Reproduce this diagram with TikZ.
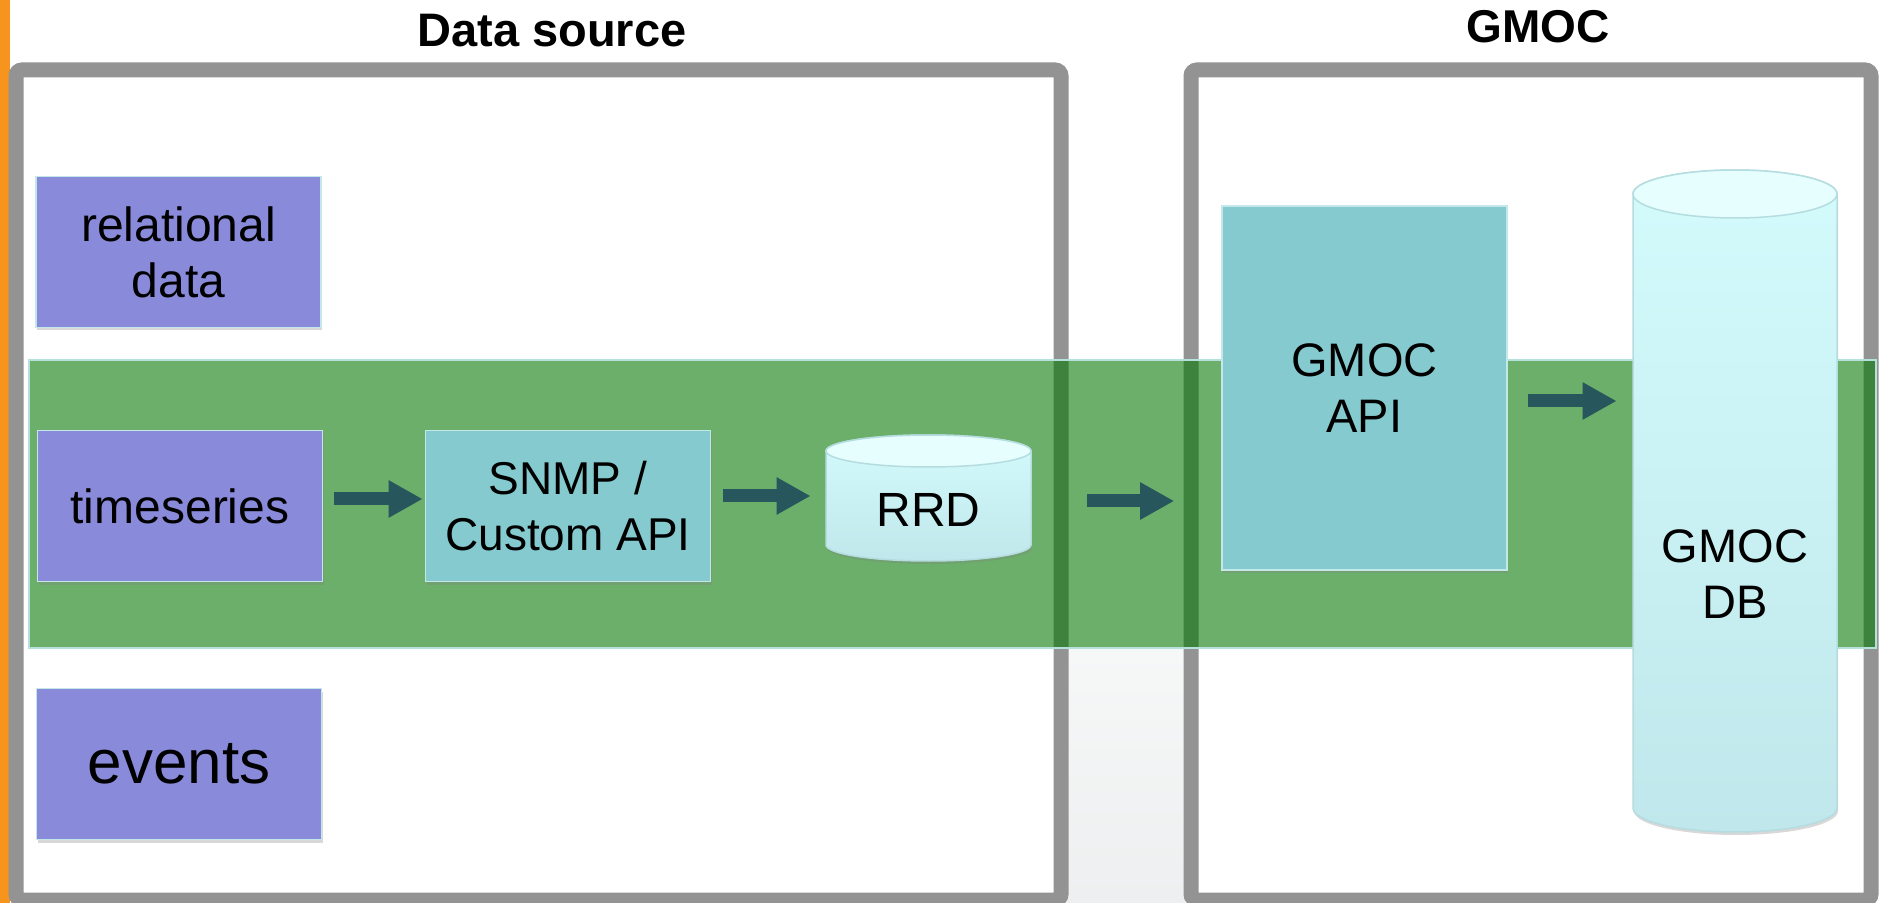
\documentclass[tikz,border=0pt]{standalone}
\usepackage{fontspec}
\setmainfont{Liberation Sans}
\usetikzlibrary{arrows.meta,shadows,calc}
\definecolor{purp}{HTML}{898BDA}
\definecolor{tealc}{HTML}{84CACF}
\definecolor{boxedge}{HTML}{C4E7EA}
\definecolor{bandgreen}{RGB}{0,118,0}
\definecolor{bandedge}{HTML}{B6E0DC}
\definecolor{framegray}{HTML}{939393}
\definecolor{orangec}{HTML}{F7941D}
\definecolor{arrowc}{HTML}{27565C}
\definecolor{cylA}{HTML}{D3FBFC}
\definecolor{cylB}{HTML}{C0E7EB}
\definecolor{cyltop}{HTML}{E6FEFE}
\definecolor{cyledge}{HTML}{B5DDE0}
\definecolor{stripA}{HTML}{F6F7F7}
\definecolor{stripB}{HTML}{EDEFF0}
\begin{document}
\begin{tikzpicture}[x=0.5pt,y=-0.5pt,
  purplebox/.style={draw=boxedge, line width=0.8pt, fill=purp, minimum width=142.5pt, minimum height=75.5pt, inner sep=0pt, align=center, font=\fontsize{24}{28}\selectfont, drop shadow={shadow xshift=0.5pt, shadow yshift=-1.5pt, opacity=0.3}},
  tealbox/.style={purplebox, fill=tealc},
  flow/.style={draw=arrowc, line width=6.5pt, -{Triangle[length=17pt,width=17.5pt]}},
  frame/.style={draw=framegray, line width=7.5pt, rounded corners=3pt},
  title/.style={font=\bfseries\fontsize{23.5}{27}\selectfont, anchor=base, inner sep=0pt},
  dbtext/.style={font=\fontsize{23.5}{28}\selectfont, align=center, inner sep=0pt},
  cylbody/.style={top color=cylA, bottom color=cylB, draw=cyledge, line width=0.75pt, drop shadow={shadow xshift=0.5pt, shadow yshift=-1.5pt, opacity=0.3}},
  cylcap/.style={draw=cyledge, fill=cyltop, line width=0.75pt}
]
\useasboundingbox (0,0) rectangle (1885,903);
\fill[white] (0,0) rectangle (1885,903);
% orange stripe
\fill[orangec] (0,0) rectangle (10,903);
% light gray strip between the frames
\shade[top color=stripA, bottom color=stripB] (1061,648) rectangle (1191,903);
% frames
\draw[frame] (16,70) rectangle (1061,900);
\draw[frame] (1191,70) rectangle (1871,900);
% titles
\node[title] (t1) at (552,47) {Data source};
\node[title, font=\bfseries\fontsize{23}{27}\selectfont] (t2) at (1538,43) {GMOC};
% green band
\path[fill=bandgreen, fill opacity=0.58, draw=bandedge, line width=0.75pt] (29,360) rectangle (1876,648);
% left boxes
\node[purplebox] (rel) at (178.5,252) {relational\\data};
\node[purplebox] (ts) at (180,506) {timeseries};
\node[purplebox, font=\fontsize{31}{35}\selectfont] (ev) at (179,764) {events};
\node[tealbox, font=\fontsize{23}{28}\selectfont] (snmp) at (568,506) {SNMP /\\Custom API};
% RRD cylinder
\path[cylbody] (826,451) -- (826,545) arc[start angle=180,end angle=360,x radius=51.25pt,y radius=8pt] -- (1031,451) arc[start angle=0,end angle=180,x radius=51.25pt,y radius=8pt] -- cycle;
\draw[cylcap] (928.5,451) ellipse[x radius=51.25pt, y radius=8pt];
\node[dbtext, font=\fontsize{24}{28}\selectfont, minimum width=102.5pt] (rrd) at (928.5,510) {RRD};
% GMOC API
\node[tealbox, minimum height=182pt, font=\fontsize{23.5}{28}\selectfont] (api) at (1364.5,388) {GMOC\\API};
% GMOC DB cylinder
\path[cylbody] (1633,194) -- (1633,808) arc[start angle=180,end angle=360,x radius=51pt,y radius=12pt] -- (1837,194) arc[start angle=0,end angle=180,x radius=51pt,y radius=12pt] -- cycle;
\draw[cylcap] (1735,194) ellipse[x radius=51pt, y radius=12pt];
\node[dbtext, minimum width=102pt] (db) at (1735,574) {GMOC\\DB};
% arrows
\coordinate (s1) at ([shift={(11,-7)}]ts.east);
\draw[flow] (s1) -- ($(s1 -| snmp.west)+(-2,0)$);
\coordinate (s2) at ([shift={(12,-10)}]snmp.east);
\draw[flow] (s2) -- ($(s2 -| rrd.west)+(-15,0)$);
\coordinate (s3) at ([shift={(56,-9)}]rrd.east);
\draw[flow] (s3) -- ($(s3 -| api.west)+(-47,0)$);
\coordinate (s4) at ([shift={(20,13)}]api.east);
\draw[flow] (s4) -- ($(s4 -| db.west)+(-16,0)$);
\end{tikzpicture}
\end{document}
